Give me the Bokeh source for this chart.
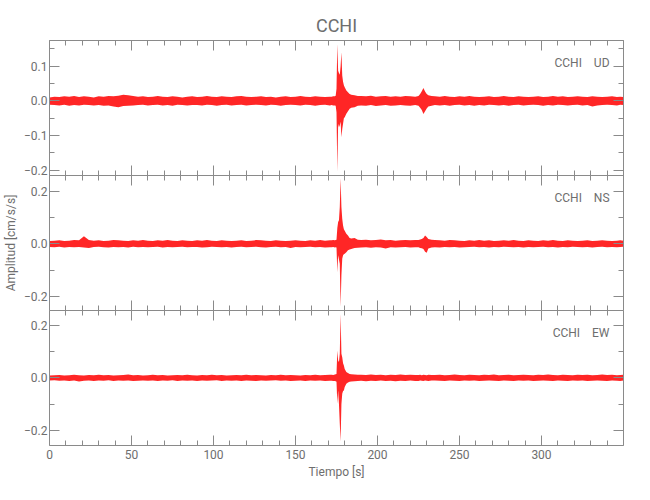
from bokeh.plotting import figure
from bokeh.layouts import column
from bokeh.models import Range1d, FixedTicker, LinearAxis, Label, CustomJSTickFormatter
from bokeh.embed import file_html
from bokeh.resources import INLINE

# ---------------- data ----------------
STATION = "CCHI"
COMPONENTS = ["UD", "NS", "EW"]
TITLE = "CCHI"
X_LABEL = "Tiempo [s]"
Y_LABEL = "Amplitud [cm/s/s]"

# time of each envelope sample [s]
T = [0, 3, 6, 9, 12, 15, 18, 21, 24, 27, 30, 33, 36, 39, 42, 45, 48, 51, 54, 57,
     60, 63, 66, 69, 72, 75, 78, 81, 84, 87, 90, 93, 96, 99, 102, 105, 108, 111, 114, 117,
     120, 123, 126, 129, 132, 135, 138, 141, 144, 147, 150, 153, 156, 159, 162, 165, 168, 171,
     172, 173, 174, 174.5, 175, 175.5, 176, 176.5, 177, 177.5, 178, 178.5, 179, 179.5, 180,
     181, 182, 183, 184, 186, 188,
     190, 193, 196, 199, 202, 205, 208, 211, 214, 217, 220, 223,
     225, 226, 227, 228, 229, 230, 231, 233,
     235, 238, 241, 244, 247, 250, 253, 256, 259, 262, 265, 268, 271, 274, 277, 280, 283, 286,
     289, 292, 295, 298, 301, 304, 307, 310, 313, 316, 319, 322, 325, 328, 331, 334, 337, 340,
     343, 346, 348, 350]

# upper / lower envelope of each trace [cm/s/s]
UD_HI = [0.010, 0.012, 0.011, 0.013, 0.012, 0.014, 0.011, 0.013, 0.012, 0.010,
         0.013, 0.012, 0.014, 0.013, 0.015, 0.018, 0.016, 0.014, 0.012, 0.013,
         0.011, 0.012, 0.014, 0.012, 0.011, 0.013, 0.012, 0.010, 0.012, 0.013,
         0.011, 0.012, 0.014, 0.012, 0.011, 0.013, 0.012, 0.011, 0.013, 0.014,
         0.012, 0.011, 0.012, 0.013, 0.011, 0.012, 0.010, 0.012, 0.013, 0.011,
         0.012, 0.014, 0.012, 0.011, 0.013, 0.012, 0.011, 0.012,
         0.012, 0.013, 0.013, 0.015, 0.035, 0.164, 0.087, 0.080, 0.075, 0.100, 0.140,
         0.073, 0.055, 0.045, 0.039, 0.030, 0.025, 0.020, 0.018, 0.016, 0.014,
         0.014, 0.013, 0.015, 0.012, 0.013, 0.014, 0.012, 0.013, 0.012, 0.014, 0.013, 0.012,
         0.014, 0.020, 0.028, 0.037, 0.027, 0.020, 0.016, 0.014,
         0.013, 0.012, 0.014, 0.012, 0.011, 0.013, 0.012, 0.014, 0.012, 0.011,
         0.012, 0.013, 0.011, 0.012, 0.014, 0.012, 0.011, 0.013, 0.012, 0.011,
         0.012, 0.013, 0.011, 0.012, 0.014, 0.012, 0.013, 0.011, 0.012, 0.013,
         0.012, 0.011, 0.013, 0.012, 0.011, 0.012, 0.013, 0.011, 0.012, 0.011]
UD_LO = [-0.011, -0.012, -0.013, -0.011, -0.014, -0.012, -0.013, -0.011, -0.012, -0.013,
         -0.012, -0.014, -0.013, -0.016, -0.018, -0.015, -0.014, -0.013, -0.012, -0.011,
         -0.013, -0.012, -0.011, -0.013, -0.012, -0.014, -0.011, -0.012, -0.013, -0.012,
         -0.012, -0.013, -0.011, -0.012, -0.014, -0.012, -0.011, -0.013, -0.012, -0.011,
         -0.013, -0.012, -0.011, -0.012, -0.013, -0.011, -0.012, -0.014, -0.012, -0.011,
         -0.012, -0.013, -0.011, -0.012, -0.014, -0.012, -0.011, -0.013,
         -0.012, -0.013, -0.013, -0.014, -0.033, -0.204, -0.066, -0.076, -0.070, -0.060, -0.105,
         -0.081, -0.066, -0.050, -0.047, -0.037, -0.030, -0.023, -0.020, -0.018, -0.014,
         -0.013, -0.014, -0.012, -0.015, -0.013, -0.012, -0.014, -0.013, -0.012, -0.013, -0.014, -0.012,
         -0.014, -0.020, -0.026, -0.038, -0.030, -0.022, -0.016, -0.014,
         -0.012, -0.013, -0.012, -0.014, -0.012, -0.011, -0.013, -0.012, -0.014, -0.012,
         -0.013, -0.011, -0.012, -0.013, -0.012, -0.014, -0.012, -0.011, -0.013, -0.012,
         -0.011, -0.012, -0.014, -0.012, -0.013, -0.011, -0.012, -0.013, -0.012, -0.011,
         -0.013, -0.012, -0.016, -0.013, -0.012, -0.011, -0.012, -0.013, -0.011, -0.012]

NS_HI = [0.011, 0.012, 0.013, 0.011, 0.012, 0.014, 0.013, 0.029, 0.014, 0.012,
         0.013, 0.011, 0.012, 0.014, 0.013, 0.012, 0.011, 0.013, 0.012, 0.014,
         0.012, 0.011, 0.013, 0.012, 0.014, 0.012, 0.011, 0.013, 0.012, 0.011,
         0.013, 0.012, 0.014, 0.012, 0.011, 0.013, 0.012, 0.011, 0.012, 0.013,
         0.011, 0.012, 0.014, 0.013, 0.012, 0.011, 0.013, 0.012, 0.011, 0.012,
         0.013, 0.012, 0.011, 0.013, 0.012, 0.014, 0.012, 0.013,
         0.013, 0.014, 0.013, 0.014, 0.015, 0.060, 0.083, 0.090, 0.140, 0.250, 0.140,
         0.095, 0.070, 0.055, 0.050, 0.038, 0.032, 0.022, 0.020, 0.022, 0.015,
         0.014, 0.015, 0.013, 0.014, 0.016, 0.013, 0.014, 0.012, 0.013, 0.014, 0.013, 0.014,
         0.014, 0.016, 0.018, 0.022, 0.032, 0.026, 0.018, 0.015,
         0.014, 0.013, 0.012, 0.014, 0.013, 0.012, 0.011, 0.013, 0.012, 0.014,
         0.012, 0.013, 0.011, 0.012, 0.013, 0.012, 0.014, 0.012, 0.011, 0.013,
         0.012, 0.011, 0.013, 0.012, 0.014, 0.012, 0.011, 0.013, 0.012, 0.011,
         0.012, 0.013, 0.011, 0.012, 0.013, 0.012, 0.011, 0.012, 0.013, 0.012]
NS_LO = [-0.012, -0.013, -0.011, -0.014, -0.012, -0.013, -0.012, -0.014, -0.016, -0.012,
         -0.011, -0.013, -0.014, -0.012, -0.013, -0.012, -0.014, -0.011, -0.013, -0.012,
         -0.013, -0.012, -0.011, -0.014, -0.012, -0.013, -0.012, -0.011, -0.013, -0.012,
         -0.012, -0.014, -0.013, -0.011, -0.012, -0.013, -0.012, -0.014, -0.012, -0.011,
         -0.013, -0.012, -0.011, -0.013, -0.014, -0.012, -0.011, -0.013, -0.012, -0.016,
         -0.012, -0.013, -0.012, -0.011, -0.013, -0.012, -0.014, -0.013,
         -0.013, -0.012, -0.014, -0.013, -0.014, -0.108, -0.044, -0.060, -0.076, -0.240, -0.120,
         -0.057, -0.044, -0.040, -0.038, -0.032, -0.025, -0.022, -0.020, -0.016, -0.015,
         -0.014, -0.013, -0.015, -0.013, -0.014, -0.018, -0.013, -0.014, -0.013, -0.012, -0.014, -0.013,
         -0.013, -0.016, -0.017, -0.020, -0.030, -0.034, -0.018, -0.014,
         -0.013, -0.014, -0.012, -0.013, -0.012, -0.014, -0.013, -0.012, -0.011, -0.013,
         -0.012, -0.014, -0.012, -0.013, -0.011, -0.012, -0.013, -0.012, -0.014, -0.012,
         -0.013, -0.012, -0.011, -0.013, -0.012, -0.014, -0.012, -0.013, -0.011, -0.012,
         -0.013, -0.012, -0.014, -0.012, -0.011, -0.013, -0.012, -0.013, -0.012, -0.011]

EW_HI = [0.009, 0.010, 0.011, 0.009, 0.010, 0.012, 0.010, 0.009, 0.011, 0.010,
         0.012, 0.010, 0.011, 0.009, 0.010, 0.011, 0.013, 0.010, 0.011, 0.009,
         0.010, 0.012, 0.010, 0.011, 0.009, 0.010, 0.011, 0.010, 0.012, 0.010,
         0.009, 0.011, 0.010, 0.012, 0.010, 0.011, 0.009, 0.010, 0.011, 0.010,
         0.012, 0.010, 0.011, 0.010, 0.009, 0.011, 0.010, 0.012, 0.010, 0.011,
         0.010, 0.009, 0.011, 0.010, 0.012, 0.010, 0.011, 0.012,
         0.012, 0.011, 0.013, 0.014, 0.015, 0.104, 0.066, 0.060, 0.091, 0.242, 0.091,
         0.078, 0.055, 0.047, 0.034, 0.022, 0.018, 0.015, 0.014, 0.013, 0.012,
         0.012, 0.011, 0.013, 0.011, 0.012, 0.010, 0.012, 0.011, 0.013, 0.011, 0.012, 0.011,
         0.011, 0.012, 0.010, 0.012, 0.011, 0.010, 0.012, 0.011,
         0.011, 0.012, 0.010, 0.011, 0.013, 0.011, 0.010, 0.012, 0.011, 0.010,
         0.012, 0.011, 0.013, 0.010, 0.011, 0.012, 0.010, 0.011, 0.012, 0.011,
         0.010, 0.012, 0.011, 0.013, 0.011, 0.010, 0.012, 0.011, 0.010, 0.012,
         0.011, 0.012, 0.010, 0.011, 0.013, 0.011, 0.012, 0.010, 0.011, 0.012]
EW_LO = [-0.010, -0.009, -0.011, -0.010, -0.012, -0.010, -0.014, -0.011, -0.010, -0.012,
         -0.010, -0.011, -0.009, -0.012, -0.010, -0.011, -0.010, -0.012, -0.011, -0.010,
         -0.011, -0.010, -0.012, -0.010, -0.011, -0.009, -0.012, -0.010, -0.011, -0.010,
         -0.012, -0.010, -0.011, -0.010, -0.009, -0.012, -0.010, -0.011, -0.010, -0.012,
         -0.010, -0.011, -0.012, -0.010, -0.011, -0.010, -0.009, -0.011, -0.010, -0.012,
         -0.011, -0.010, -0.012, -0.010, -0.011, -0.010, -0.012, -0.011,
         -0.011, -0.012, -0.012, -0.013, -0.015, -0.098, -0.048, -0.100, -0.174, -0.241, -0.100,
         -0.060, -0.050, -0.048, -0.035, -0.022, -0.018, -0.015, -0.014, -0.013, -0.012,
         -0.011, -0.013, -0.011, -0.012, -0.010, -0.012, -0.011, -0.013, -0.011, -0.012, -0.010, -0.012,
         -0.012, -0.010, -0.011, -0.012, -0.010, -0.011, -0.012, -0.010,
         -0.010, -0.011, -0.012, -0.010, -0.011, -0.012, -0.010, -0.011, -0.010, -0.012,
         -0.011, -0.010, -0.011, -0.012, -0.010, -0.011, -0.012, -0.010, -0.011, -0.010,
         -0.012, -0.011, -0.010, -0.011, -0.012, -0.010, -0.011, -0.012, -0.010, -0.011,
         -0.010, -0.012, -0.011, -0.010, -0.011, -0.012, -0.010, -0.011, -0.012, -0.010]

X_RANGE = (0, 350)
Y_RANGES = [(-0.215, 0.174), (-0.254, 0.260), (-0.256, 0.255)]
X_MAJOR = [0, 50, 100, 150, 200, 250, 300]
X_MINOR = [v for v in range(10, 350, 10) if v % 50 != 0]
Y_MAJOR = [[-0.2, -0.1, 0.0, 0.1], [-0.2, 0.0, 0.2], [-0.2, 0.0, 0.2]]
Y_MINOR = [[-0.15, -0.05, 0.05, 0.15], [-0.1, 0.1], [-0.1, 0.1]]

for arr in (UD_HI, UD_LO, NS_HI, NS_LO, EW_HI, EW_LO):
    assert len(arr) == len(T), (len(arr), len(T))

# ---------------- style ----------------
FONT = "Roboto"
AX = "#8a8a8a"
TXT = "#6e6e6e"
RED = "#ff0000"
NBSP = "\u00a0"
OVERLAP = 4  # extra canvas below the top panel so its lowest tick label is not clipped

xr = Range1d(*X_RANGE)
yfmt = "return (tick < -1e-9 ? '\\u2212' : '') + Math.abs(tick).toFixed(1);"


def base_axis(ax):
    ax.axis_line_color = AX
    ax.major_tick_line_color = AX
    ax.minor_tick_line_color = AX
    ax.major_tick_in = 10
    ax.major_tick_out = 0
    ax.minor_tick_in = 5
    ax.minor_tick_out = 0
    ax.major_label_text_font = FONT
    ax.major_label_text_color = TXT
    ax.major_label_text_font_size = "12px"
    ax.axis_label_text_font = FONT
    ax.axis_label_text_color = TXT
    ax.axis_label_text_font_style = "normal"
    ax.axis_label_text_font_size = "12px"
    return ax


def tick_only_axes(p, side, majors, minors):
    # two label-free axes stacked at the same edge: long and short inward ticks
    for pos, length in ((majors, 10), (minors, 5)):
        ax = base_axis(LinearAxis(ticker=FixedTicker(ticks=[], minor_ticks=pos)))
        ax.minor_tick_in = length
        ax.major_label_standoff = 0
        p.add_layout(ax, side)


def panel(i, hi, lo, comp, height, top=False, bottom=False, ylabel=False, border_bottom=0):
    p = figure(width=640, height=height, x_range=xr,
               y_range=Range1d(*Y_RANGES[i]),
               output_backend="svg", toolbar_location=None,
               x_axis_location=None, y_axis_location=None,
               min_border_left=48, min_border_right=17,
               min_border_top=40 if top else 0,
               min_border_bottom=border_bottom)
    p.grid.visible = False
    p.outline_line_color = None
    p.background_fill_color = "white"
    p.border_fill_color = "white"

    left = base_axis(LinearAxis(ticker=FixedTicker(ticks=Y_MAJOR[i], minor_ticks=Y_MINOR[i]),
                                formatter=CustomJSTickFormatter(code=yfmt)))
    left.major_label_standoff = 2
    if ylabel:
        left.axis_label = Y_LABEL
        left.axis_label_standoff = 3
    p.add_layout(left, "left")

    tick_only_axes(p, "right", Y_MAJOR[i], Y_MINOR[i])
    tick_only_axes(p, "above", X_MAJOR, X_MINOR)

    if bottom:
        below = base_axis(LinearAxis(ticker=FixedTicker(ticks=X_MAJOR, minor_ticks=X_MINOR)))
        below.major_label_standoff = 4
        below.axis_label = X_LABEL
        below.axis_label_standoff = 3
        p.add_layout(below, "below")
    else:
        tick_only_axes(p, "below", X_MAJOR, X_MINOR)

    p.varea(x=T, y1=lo, y2=hi, fill_color=RED, fill_alpha=0.85)

    p.add_layout(Label(x=X_RANGE[1], y=Y_RANGES[i][1], x_offset=-14, y_offset=-15,
                       text=STATION + NBSP * 4 + comp, text_align="right", text_baseline="top",
                       text_font=FONT, text_font_size="12px", text_color=TXT))

    if top:
        p.title.text = TITLE
        p.title.align = "center"
        p.title.text_font = FONT
        p.title.text_font_size = "18px"
        p.title.text_font_style = "normal"
        p.title.text_color = TXT
        p.title.standoff = 10
    return p


p1 = panel(0, UD_HI, UD_LO, COMPONENTS[0], 175 + OVERLAP, top=True, border_bottom=OVERLAP)
p2 = panel(1, NS_HI, NS_LO, COMPONENTS[1], 135, ylabel=True)
p3 = panel(2, EW_HI, EW_LO, COMPONENTS[2], 190, bottom=True, border_bottom=55)

# the middle panel slides up over the spare strip of the top panel; transparent so the label shows
p2.margin = (-OVERLAP, 0, 0, 0)
p2.background_fill_alpha = 0
p2.border_fill_alpha = 0

layout = column(p1, p2, p3, spacing=0)
open("out.html", "w").write(file_html(layout, INLINE))
